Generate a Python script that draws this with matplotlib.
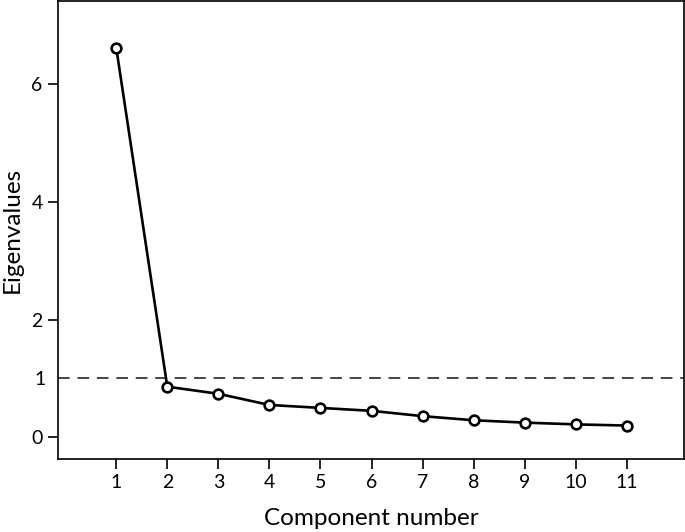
import matplotlib
matplotlib.use('Agg')
import matplotlib.pyplot as plt

plt.rcParams['font.family'] = ['Lato', 'DejaVu Sans']

components = [1, 2, 3, 4, 5, 6, 7, 8, 9, 10, 11]
eigenvalues = [6.62, 0.86, 0.74, 0.55, 0.50, 0.45, 0.36, 0.29, 0.25, 0.22, 0.20]
cutoff = 1

fig = plt.figure(figsize=(6.85, 5.32), dpi=100)
ax = fig.add_axes([0.0847, 0.137, 0.9138, 0.861])

# Kaiser criterion line
ax.axhline(cutoff, color='#444444', linestyle=(0, (6, 4)), linewidth=1.4, zorder=1)

# Scree line
ax.plot(components, eigenvalues, color='black', linewidth=1.9,
        marker='o', markersize=7, markerfacecolor='white',
        markeredgecolor='black', markeredgewidth=1.9, zorder=3)

ax.set_xlim(-0.14, 12.12)
ax.set_ylim(-0.37, 7.41)
ax.set_xticks(components)
ax.set_yticks([0, 2, 4, 6])
ax.set_yticks([cutoff], minor=True)
ax.set_yticklabels(['1'], minor=True)
ax.tick_params(axis='both', which='major', direction='out', length=7,
               width=1.2, labelsize=14, pad=4)
ax.tick_params(axis='y', which='minor', length=0, labelsize=14, pad=9)

for s in ax.spines.values():
    s.set_linewidth(1.2)

ax.set_xlabel('Component number', fontsize=17.5, labelpad=12)
ax.set_ylabel('Eigenvalues', fontsize=17.5, labelpad=6)

plt.savefig('out.png', dpi=100)
